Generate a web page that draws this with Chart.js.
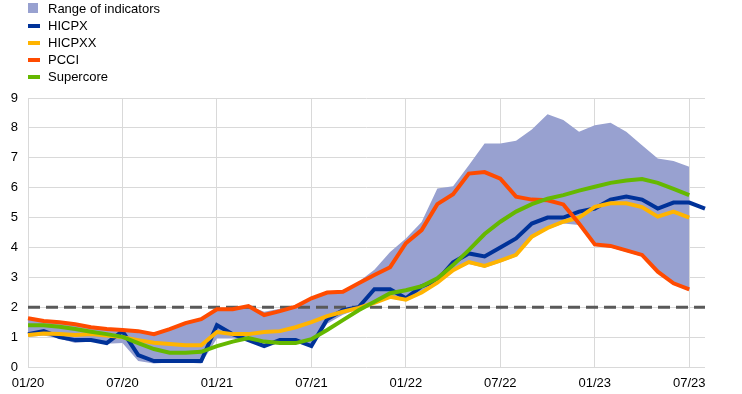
<!DOCTYPE html>
<html>
<head>
<meta charset="utf-8">
<script src="https://cdn.jsdelivr.net/npm/chart.js@4"></script>
<style>
  body { margin: 0; background: #fff; }
  #wrap { position: relative; width: 742px; height: 394px; }
  #legend { position: absolute; left: 28px; top: 0; font: 13px "Liberation Sans", Arial, sans-serif; color: #000; }
  #legend div { height: 17px; line-height: 17px; position: relative; padding-left: 20px; }
  #legend span { position: absolute; left: 0; }
  .sq { top: 3px; width: 10px; height: 10px; }
  .ln { top: 7px; width: 12px; height: 4px; }
</style>
</head>
<body>
<div id="wrap">
  <canvas id="myChart" width="742" height="394"></canvas>
  <div id="legend"></div>
</div>
<script>
const ctx = document.getElementById('myChart');

const months = ['01/20','02/20','03/20','04/20','05/20','06/20','07/20','08/20','09/20','10/20','11/20','12/20',
  '01/21','02/21','03/21','04/21','05/21','06/21','07/21','08/21','09/21','10/21','11/21','12/21',
  '01/22','02/22','03/22','04/22','05/22','06/22','07/22','08/22','09/22','10/22','11/22','12/22',
  '01/23','02/23','03/23','04/23','05/23','06/23','07/23','08/23'];

const hicpx = [1.1,1.2,1.0,0.9,0.9,0.8,1.2,0.4,0.2,0.2,0.2,0.2,
  1.4,1.1,0.9,0.7,0.9,0.9,0.7,1.6,1.9,2.0,2.6,2.6,
  2.3,2.7,2.9,3.5,3.8,3.7,4.0,4.3,4.8,5.0,5.0,5.2,
  5.3,5.6,5.7,5.6,5.3,5.5,5.5,5.3];

const hicpxx = [1.07,1.12,1.1,1.07,1.1,1.05,1.0,0.9,0.81,0.77,0.73,0.73,
  1.17,1.1,1.1,1.17,1.2,1.33,1.5,1.7,1.85,1.98,2.15,2.35,
  2.25,2.49,2.82,3.24,3.51,3.38,3.56,3.75,4.36,4.65,4.86,5.0,
  5.36,5.48,5.48,5.35,5.03,5.2,5.0,null];

const pcci = [1.63,1.54,1.5,1.43,1.33,1.27,1.24,1.2,1.1,1.27,1.47,1.6,
  1.93,1.93,2.04,1.74,1.87,2.02,2.3,2.49,2.52,2.8,3.08,3.34,
  4.14,4.58,5.45,5.78,6.47,6.52,6.3,5.7,5.6,5.58,5.44,4.8,
  4.1,4.05,3.9,3.75,3.19,2.8,2.6,null];

const supercore = [1.4,1.4,1.35,1.27,1.18,1.1,1.01,0.8,0.6,0.48,0.48,0.51,
  0.7,0.85,0.97,0.85,0.8,0.8,0.93,1.24,1.57,1.9,2.18,2.47,
  2.57,2.7,2.97,3.41,3.91,4.45,4.86,5.2,5.45,5.63,5.75,5.9,
  6.03,6.16,6.24,6.29,6.16,5.96,5.75,null];

const rangeHigh = [1.65,1.56,1.52,1.45,1.37,1.3,1.27,1.22,1.12,1.29,1.49,1.62,
  1.95,1.96,2.06,1.85,1.95,2.05,2.32,2.52,2.55,2.85,3.25,3.85,
  4.3,4.85,5.97,6.05,6.75,7.48,7.48,7.57,7.95,8.46,8.26,7.87,
  8.09,8.17,7.87,7.42,6.98,6.89,6.7,null];

const rangeLow = [1.0,1.05,0.95,0.8,0.85,0.78,0.8,0.2,0.12,0.15,0.15,0.12,
  0.95,0.95,0.88,0.68,0.85,0.85,0.65,1.45,1.75,1.95,2.15,2.3,
  2.2,2.45,2.78,3.2,3.45,3.32,3.5,3.7,4.3,4.6,4.8,4.75,
  4.05,4.0,3.85,3.7,3.15,2.75,2.55,null];

const target = 2;

const series = [
  { label: 'HICPX', data: hicpx, color: '#003299' },
  { label: 'HICPXX', data: hicpxx, color: '#FFB400' },
  { label: 'PCCI', data: pcci, color: '#FF4B00' },
  { label: 'Supercore', data: supercore, color: '#65B800' }
];
const rangeColor = '#98A1D0';

// html legend
let legendHtml = '<div><span class="sq" style="background:' + rangeColor + '"></span>Range of indicators</div>';
series.forEach(s => {
  legendHtml += '<div><span class="ln" style="background:' + s.color + '"></span>' + s.label + '</div>';
});
document.getElementById('legend').innerHTML = legendHtml;

let lineSets = series.map((s, i) => ({
  label: s.label,
  data: s.data,
  borderColor: s.color,
  borderWidth: 4,
  pointRadius: 0,
  tension: 0,
  fill: false,
  order: 4 - i
}));

new Chart(ctx, {
  type: 'line',
  data: {
    labels: months,
    datasets: [
      ...lineSets,
      {
        label: 'target',
        data: months.map(() => target),
        borderColor: '#595959',
        borderWidth: 3,
        borderDash: [12, 6],
        pointRadius: 0,
        fill: false,
        order: 5
      },
      {
        label: 'low',
        data: rangeLow,
        borderWidth: 0,
        pointRadius: 0,
        fill: false,
        order: 7
      },
      {
        label: 'high',
        data: rangeHigh,
        borderWidth: 0,
        pointRadius: 0,
        backgroundColor: rangeColor,
        fill: '-1',
        order: 6
      }
    ]
  },
  options: {
    responsive: false,
    animation: false,
    layout: { padding: { top: 98, right: 37, left: 0, bottom: 0 } },
    plugins: {
      legend: { display: false },
      tooltip: { enabled: false }
    },
    scales: {
      x: {
        offset: false,
        grid: {
          color: c => (c.index % 6 === 0 ? '#d9d9d9' : 'rgba(0,0,0,0)'),
          drawTicks: false
        },
        border: { display: false },
        ticks: {
          autoSkip: false,
          maxRotation: 0,
          padding: 9,
          color: '#000',
          font: { family: 'Liberation Sans', size: 13 },
          callback: (v, i) => (i % 6 === 0 ? months[i] : '')
        },
        afterFit: s => { s.height = 27; }
      },
      y: {
        min: 0,
        max: 9,
        grid: { color: '#d9d9d9', drawTicks: false },
        border: { display: false },
        ticks: {
          stepSize: 1,
          padding: 10,
          color: '#000',
          font: { family: 'Liberation Sans', size: 13 }
        },
        afterFit: s => { s.width = 28; }
      }
    }
  }
});
</script>
</body>
</html>
